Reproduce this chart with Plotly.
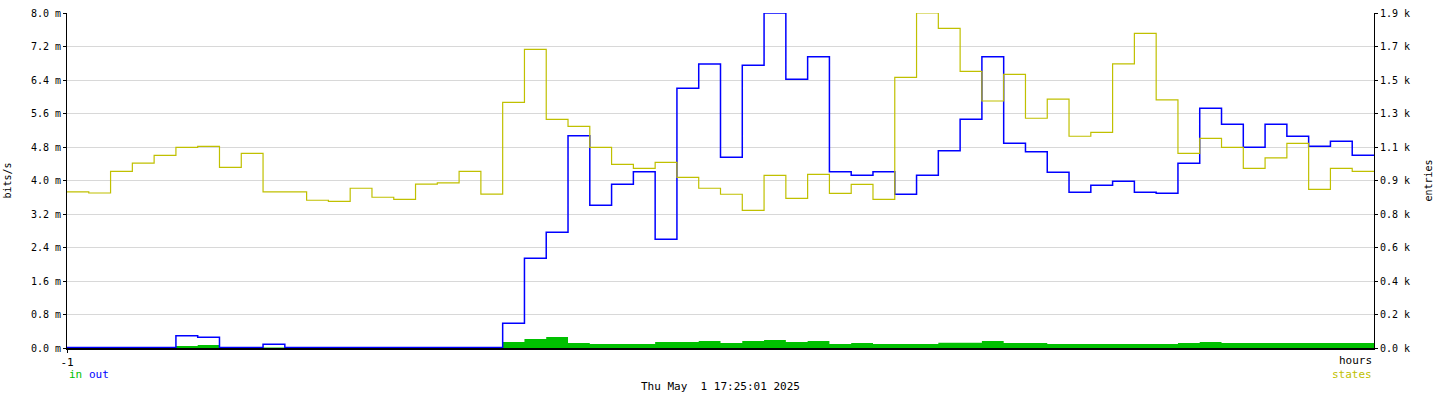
import plotly.graph_objects as go

# minutes within the last hour (step start)
minutes = list(range(60))

# "in" traffic (bits/s, milli units)
in_m = [0, 0, 0, 0, 0, 0.048, 0.072, 0, 0, 0.01,
        0, 0, 0, 0, 0, 0, 0, 0, 0, 0,
        0.143, 0.215, 0.263, 0.119, 0.096, 0.096, 0.096, 0.143, 0.143, 0.167,
        0.119, 0.167, 0.191, 0.143, 0.167, 0.096, 0.119, 0.096, 0.096, 0.096,
        0.127, 0.127, 0.167, 0.119, 0.119, 0.096, 0.096, 0.096, 0.096, 0.096,
        0.096, 0.119, 0.143, 0.119, 0.119, 0.119, 0.119, 0.119, 0.119, 0.119]

# "out" traffic (bits/s, milli units)
out_m = [0.01, 0.01, 0.01, 0.01, 0.01, 0.294, 0.256, 0.01, 0.01, 0.088,
         0.01, 0.01, 0.01, 0.01, 0.01, 0.01, 0.01, 0.01, 0.01, 0.01,
         0.590, 2.142, 2.763, 5.070, 3.408, 3.909, 4.210, 2.596, 6.202, 6.782,
         4.554, 6.751, 8.0, 6.417, 6.956, 4.210, 4.124, 4.210, 3.670, 4.124,
         4.712, 5.461, 6.956, 4.888, 4.688, 4.196, 3.718, 3.885, 3.981, 3.718,
         3.694, 4.411, 5.724, 5.342, 4.793, 5.342, 5.056, 4.817, 4.936, 4.602]

# "states" entries (right axis)
states = [885, 879, 1002, 1048, 1093, 1138, 1144, 1025, 1104, 885,
          885, 838, 832, 906, 855, 843, 930, 936, 1002, 873,
          1393, 1694, 1297, 1257, 1138, 1042, 1019, 1053, 968, 906,
          872, 781, 979, 849, 985, 877, 928, 843, 1535, 1900,
          1813, 1569, 1401, 1552, 1303, 1411, 1201, 1223, 1611, 1785,
          1407, 1104, 1189, 1138, 1019, 1078, 1161, 900, 1019, 1002]

left_ticks = [0.0, 0.8, 1.6, 2.4, 3.2, 4.0, 4.8, 5.6, 6.4, 7.2, 8.0]
left_labels = ["0.0 m", "0.8 m", "1.6 m", "2.4 m", "3.2 m", "4.0 m",
               "4.8 m", "5.6 m", "6.4 m", "7.2 m", "8.0 m"]
right_ticks = [0, 190, 380, 570, 760, 950, 1140, 1330, 1520, 1710, 1900]
right_labels = ["0.0 k", "0.2 k", "0.4 k", "0.6 k", "0.8 k", "0.9 k",
                "1.1 k", "1.3 k", "1.5 k", "1.7 k", "1.9 k"]

x = [-1 + m / 60 for m in minutes] + [0]


def ext(v):
    return list(v) + [v[-1]]


FONT = "DejaVu Sans Mono"
GREEN = "#00C000"
BLUE = "#0000FF"
YELLOW = "#C0C000"

fig = go.Figure()
fig.add_trace(go.Scatter(x=x, y=ext(in_m), mode="lines", line_shape="hv",
                         line=dict(width=0, color=GREEN), fill="tozeroy",
                         fillcolor=GREEN, hoverinfo="skip", showlegend=False))
fig.add_trace(go.Scatter(x=x, y=ext(out_m), mode="lines", line_shape="hv",
                         line=dict(width=1.5, color=BLUE),
                         hoverinfo="skip", showlegend=False))
fig.add_trace(go.Scatter(x=x, y=ext(states), mode="lines", line_shape="hv",
                         line=dict(width=1.2, color=YELLOW), yaxis="y2",
                         hoverinfo="skip", showlegend=False))

fig.update_layout(
    width=1440, height=400, autosize=False,
    margin=dict(l=67, r=66, t=13, b=52, pad=0),
    paper_bgcolor="white", plot_bgcolor="white",
    font=dict(family=FONT, size=10, color="black"),
    xaxis=dict(range=[-1, 0], tickvals=[-1], ticktext=["-1"],
               ticks="outside", ticklen=3, tickcolor="black",
               showgrid=False, zeroline=False, showline=True,
               linecolor="black", linewidth=1.5, automargin=False,
               tickfont=dict(family=FONT, size=11)),
    yaxis=dict(range=[0, 8], tickvals=left_ticks, ticktext=left_labels,
               ticks="outside", ticklen=3, tickcolor="black",
               showgrid=True, gridcolor="#D8D8D8", gridwidth=1,
               zeroline=False, showline=True, linecolor="black", linewidth=1,
               automargin=False,
               title=dict(text="bits/s", standoff=17, font=dict(family=FONT, size=10)),
               tickfont=dict(family=FONT, size=10)),
    yaxis2=dict(range=[0, 1900], tickvals=right_ticks, ticktext=right_labels,
                overlaying="y", side="right",
                ticks="outside", ticklen=3, tickcolor="black",
                showgrid=False, zeroline=False, showline=True,
                linecolor="black", linewidth=1, automargin=False,
                title=dict(text="entries", standoff=15, font=dict(family=FONT, size=10)),
                tickfont=dict(family=FONT, size=10)),
)

annos = [
    dict(text="hours", x=1, y=-0.012, xanchor="right", yanchor="top",
         font=dict(color="black", size=11)),
    dict(text="in", x=0, y=-0.055, xanchor="left", yanchor="top",
         font=dict(color=GREEN, size=11)),
    dict(text="out", x=0, y=-0.055, xanchor="left", yanchor="top", xshift=20,
         font=dict(color=BLUE, size=11)),
    dict(text="states", x=1, y=-0.055, xanchor="right", yanchor="top",
         font=dict(color=YELLOW, size=11)),
    dict(text="Thu May\u00a0\u00a01 17:25:01 2025", x=0.5, y=-0.09,
         xanchor="center", yanchor="top", font=dict(color="black", size=11)),
]
for a in annos:
    fig.add_annotation(xref="paper", yref="paper", showarrow=False,
                       font_family=FONT, **a)

fig.write_html("out.html", config={"displayModeBar": False},
               post_script="document.body.style.margin='0px';")
